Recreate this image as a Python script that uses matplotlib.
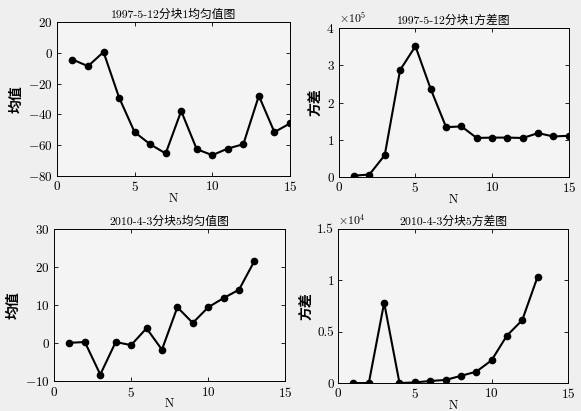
import numpy as np
import matplotlib.pyplot as plt

plt.rcParams['font.family'] = ['cmr10', 'Noto Sans CJK SC']
plt.rcParams['mathtext.fontset'] = 'cm'
plt.rcParams['axes.formatter.use_mathtext'] = True

# data
n1 = np.arange(1, 16)
mean1 = [-4.3, -8.6, 0.6, -29, -51.5, -59.4, -65.4, -37.8, -62.6, -66.5, -62.2, -59.4, -27.9, -51.5, -45.9]
var1 = [0.04, 0.07, 0.59, 2.87, 3.51, 2.36, 1.34, 1.36, 1.05, 1.06, 1.06, 1.05, 1.18, 1.09, 1.11]  # x1e5

n2 = np.arange(1, 14)
mean2 = [0.1, 0.3, -8.2, 0.3, -0.5, 3.9, -1.7, 9.4, 5.3, 9.4, 11.8, 14.0, 21.5]
var2 = [0.0, 0.0, 0.78, 0.0, 0.006, 0.02, 0.03, 0.07, 0.11, 0.22, 0.46, 0.61, 1.03]  # x1e4

titles = ['1997-5-12分块1均匀值图', '1997-5-12分块1方差图',
          '2010-4-3分块5均匀值图', '2010-4-3分块5方差图']
ylabels = ['均值', '方差', '均值', '方差']

fig = plt.figure(figsize=(5.81, 4.11), dpi=100, facecolor='#efefef')
boxes = [[0.098, 0.572, 0.401, 0.374], [0.583, 0.569, 0.396, 0.363],
         [0.093, 0.072, 0.398, 0.372], [0.582, 0.068, 0.396, 0.376]]
xs = [n1, n1, n2, n2]
ys = [mean1, var1, mean2, var2]
ylims = [(-80, 20), (0, 4), (-10, 30), (0, 1.5)]
yticks = [np.arange(-80, 21, 20), np.arange(0, 5, 1), np.arange(-10, 31, 10), [0, 0.5, 1, 1.5]]
ytl = [None, None, None, ['0', '0.5', '1', '1.5']]
expo = [None, 5, None, 4]

for i in range(4):
    ax = fig.add_axes(boxes[i])
    ax.set_facecolor('#f4f4f4')
    ax.plot(xs[i], ys[i], '-o', color='black', lw=1.5, ms=4.5)
    ax.set_xlim(0, 15)
    ax.set_ylim(*ylims[i])
    ax.set_xticks([0, 5, 10, 15])
    ax.set_yticks(yticks[i])
    if ytl[i] is not None:
        ax.set_yticklabels(ytl[i])
    ax.tick_params(direction='in', top=True, right=True, labelsize=9.5, length=3, width=0.6, pad=3)
    for s in ax.spines.values():
        s.set_linewidth(0.7)
    ax.set_title(titles[i], fontsize=8.5, pad=3)
    ax.set_xlabel('N', fontsize=9, labelpad=-1)
    ax.set_ylabel(ylabels[i], fontsize=10, fontweight='bold', family=['Noto Sans CJK SC'], labelpad=3)
    if expo[i] is not None:
        ax.text(0.0, 1.01, r'$\times10^{%d}$' % expo[i], transform=ax.transAxes, fontsize=8.5, va='bottom')

plt.savefig('out.png', dpi=100, facecolor=fig.get_facecolor())
